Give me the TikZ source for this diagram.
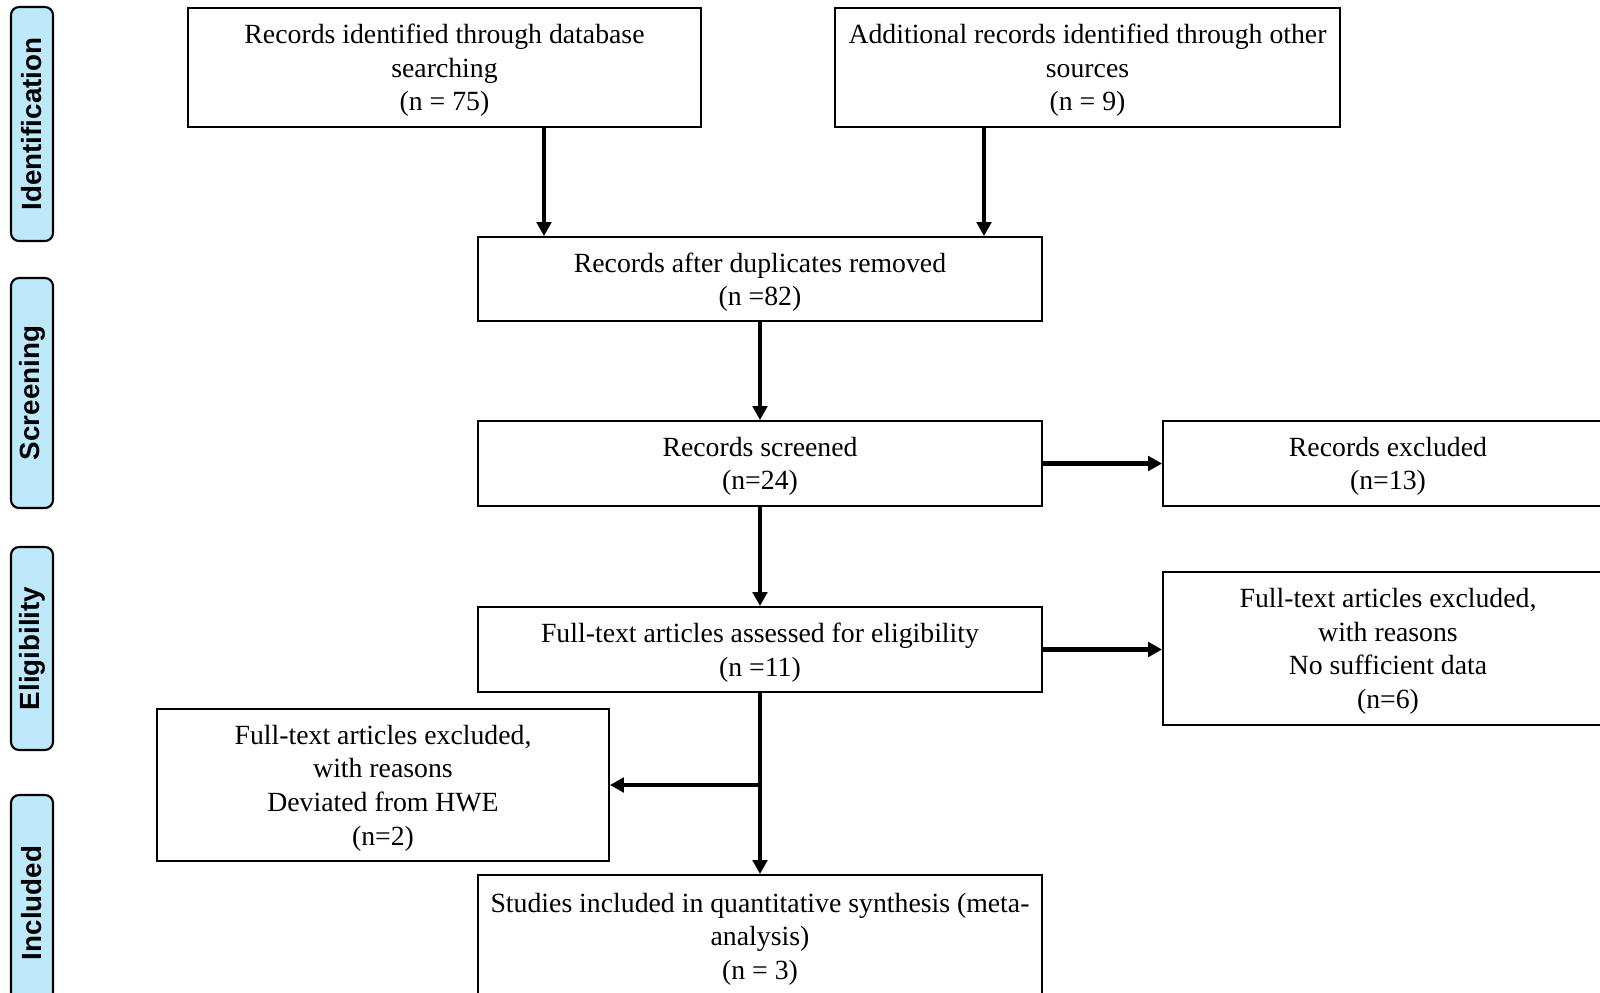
\documentclass[tikz,border=0pt]{standalone}
\usepackage{fontspec}
\setmainfont{Liberation Serif}
\setsansfont{Liberation Sans}
\definecolor{stageblue}{RGB}{190, 233, 251}
\usetikzlibrary{arrows.meta, positioning, calc}

\begin{document}
\begin{tikzpicture}[x=0.02cm, y=-0.02cm,
    box/.style={draw, line width=1.1pt, inner sep=0pt, align=center, font=\fontsize{15.8}{19.1}\selectfont,
        execute at begin node={\vbox\bgroup\kern3.4pt\hbox\bgroup}, execute at end node={\egroup\egroup}},
    stage/.style={draw, line width=1.2pt, rounded corners=0.16cm, fill=stageblue, rotate=90, inner sep=0pt, minimum height=0.84cm, font=\sffamily\bfseries\fontsize{15.8}{19}\selectfont},
    arr/.style={-{Triangle[length=0.28cm, width=0.29cm]}, line width=2.5pt}
]
    \useasboundingbox (0,0) rectangle (1600,992);
    \clip (0,0) rectangle (1600,992);
    % stages on the left
    \node[stage, minimum width=4.68cm] (idn) at (32,124) {Identification};
    \node[stage, minimum width=4.60cm] (scr) at (32,393) {Screening};
    \node[stage, minimum width=4.06cm] (elg) at (32,648.5) {Eligibility};
    \node[stage, minimum width=4.32cm] (inc) at (32,903) {Included};
    % flow boxes
    \node[box, minimum width=10.26cm, minimum height=2.38cm] (db) at (444.5,67.5) {Records identified through database\\searching\\(n = 75)};
    \node[box, minimum width=10.10cm, minimum height=2.38cm] (other) at (1087.5,67.5) {Additional records identified through other\\sources\\(n = 9)};
    \node[box, minimum width=11.28cm, minimum height=1.68cm] (dup) at (760,279) {Records after duplicates removed\\(n =82)};
    \node[box, minimum width=11.28cm, minimum height=1.70cm] (screened) at (760,463.5) {Records screened\\(n=24)};
    \node[box, minimum width=9.00cm, minimum height=1.70cm] (excl) at (1388,463.5) {Records excluded\\(n=13)};
    \node[box, minimum width=11.28cm, minimum height=1.70cm] (fulltext) at (760,649.5) {Full-text articles assessed for eligibility\\(n =11)};
    \node[box, minimum width=9.00cm, minimum height=3.06cm] (exclR) at (1388,648.5) {Full-text articles excluded,\\with reasons\\No sufficient data\\(n=6)};
    \node[box, minimum width=9.04cm, minimum height=3.04cm] (exclL) at (383,785) {Full-text articles excluded,\\with reasons\\Deviated from HWE\\(n=2)};
    \node[box, minimum width=11.28cm, minimum height=2.44cm] (incl) at (760,936) {Studies included in quantitative synthesis (meta-\\analysis)\\(n = 3)};
    % connectors
    \draw[arr] ([xshift=1.99cm]db.south) -- ([xshift=1.99cm]db.south |- dup.north);
    \draw[arr] ([xshift=-2.07cm]other.south) -- ([xshift=-2.07cm]other.south |- dup.north);
    \draw[arr] (dup) -- (screened);
    \draw[arr] (screened) -- (excl);
    \draw[arr] (screened) -- (fulltext);
    \draw[arr] (fulltext.east) -- (fulltext.east -| exclR.west);
    \draw[arr] (fulltext) -- (incl);
    \draw[arr] (fulltext.south |- exclL.east) -- (exclL.east);
\end{tikzpicture}
\end{document}
